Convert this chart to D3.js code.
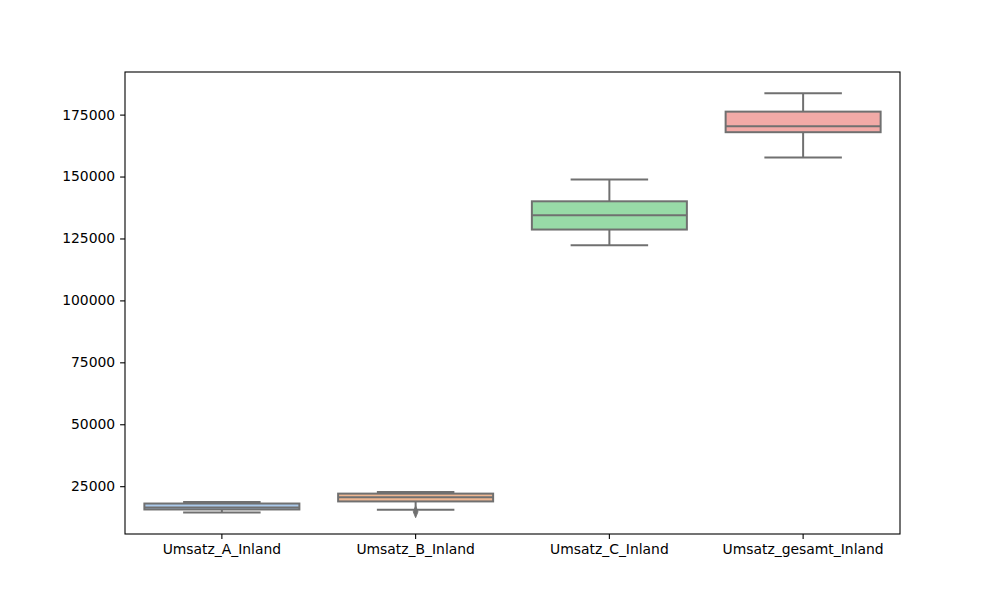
<!DOCTYPE html>
<html>
<head>
<meta charset="utf-8">
<script src="https://cdn.jsdelivr.net/npm/d3@7"></script>
<style>
body { margin: 0; background: #fff; }
svg { display: block; }
</style>
</head>
<body>
<svg id="chart" width="1000" height="600"></svg>
<script>
const categories = ["Umsatz_A_Inland", "Umsatz_B_Inland", "Umsatz_C_Inland", "Umsatz_gesamt_Inland"];
const whiskerLow  = [14400, 15450, 122300, 157700];
const q1          = [15600, 18850, 128600, 167900];
const median      = [16400, 20500, 134400, 170300];
const q3          = [18000, 22000, 140000, 176200];
const whiskerHigh = [18650, 22700, 148800, 183600];
const outliers    = [[], [14650], [], []];
const fills       = ["#abc9ea", "#efb792", "#98daa7", "#f2aaa7"];
const yTicks      = [25000, 50000, 75000, 100000, 125000, 150000, 175000];
const yDomain     = [5700, 192200];

const margin = {left: 125, right: 100, top: 72, bottom: 66};
const W = 1000, H = 600;
const svg = d3.select("#chart");
const x = d3.scaleBand().domain(categories).range([margin.left, W - margin.right]).paddingInner(0).paddingOuter(0);
const y = d3.scaleLinear().domain(yDomain).range([H - margin.bottom, margin.top]);
const line = "#707070";
const lw = 2;
const boxW = x.bandwidth() * 0.8;

const g = svg.append("g");
categories.forEach((c, i) => {
  const cx = x(c) + x.bandwidth() / 2;
  // whiskers
  g.append("line").attr("x1", cx).attr("x2", cx).attr("y1", y(whiskerLow[i])).attr("y2", y(q1[i]))
    .attr("stroke", line).attr("stroke-width", lw);
  g.append("line").attr("x1", cx).attr("x2", cx).attr("y1", y(q3[i])).attr("y2", y(whiskerHigh[i]))
    .attr("stroke", line).attr("stroke-width", lw);
  // caps
  [whiskerLow[i], whiskerHigh[i]].forEach(v => {
    g.append("line").attr("x1", cx - boxW / 4).attr("x2", cx + boxW / 4).attr("y1", y(v)).attr("y2", y(v))
      .attr("stroke", line).attr("stroke-width", lw);
  });
  // box
  g.append("rect").attr("x", cx - boxW / 2).attr("width", boxW)
    .attr("y", y(q3[i])).attr("height", y(q1[i]) - y(q3[i]))
    .attr("fill", fills[i]).attr("stroke", line).attr("stroke-width", lw);
  // median
  g.append("line").attr("x1", cx - boxW / 2).attr("x2", cx + boxW / 2).attr("y1", y(median[i])).attr("y2", y(median[i]))
    .attr("stroke", line).attr("stroke-width", lw);
  // outliers
  outliers[i].forEach(v => {
    g.append("path").attr("d", d3.symbol(d3.symbolDiamond, 40)())
      .attr("transform", `translate(${cx},${y(v)}) scale(0.7,1)`)
      .attr("fill", line).attr("stroke", line).attr("stroke-width", 1);
  });
});

// axes
const yAxis = d3.axisLeft(y).tickValues(yTicks).tickFormat(d3.format("d")).tickSize(4.9).tickPadding(4.9);
const gy = svg.append("g").attr("transform", `translate(${margin.left},0)`).call(yAxis);
const xAxis = d3.axisBottom(x).tickSize(4.9).tickPadding(4.9);
const gx = svg.append("g").attr("transform", `translate(0,${H - margin.bottom})`).call(xAxis);
[gx, gy].forEach(a => {
  a.select(".domain").remove();
  a.selectAll("line").attr("stroke", "#000").attr("stroke-width", 1.1);
  a.selectAll("text").attr("font-family", "DejaVu Sans").attr("font-size", "13.9px").attr("fill", "#000");
});
// frame
svg.append("rect").attr("x", margin.left).attr("y", margin.top)
  .attr("width", W - margin.left - margin.right).attr("height", H - margin.top - margin.bottom)
  .attr("fill", "none").attr("stroke", "#000").attr("stroke-width", 1.1);
</script>
</body>
</html>
